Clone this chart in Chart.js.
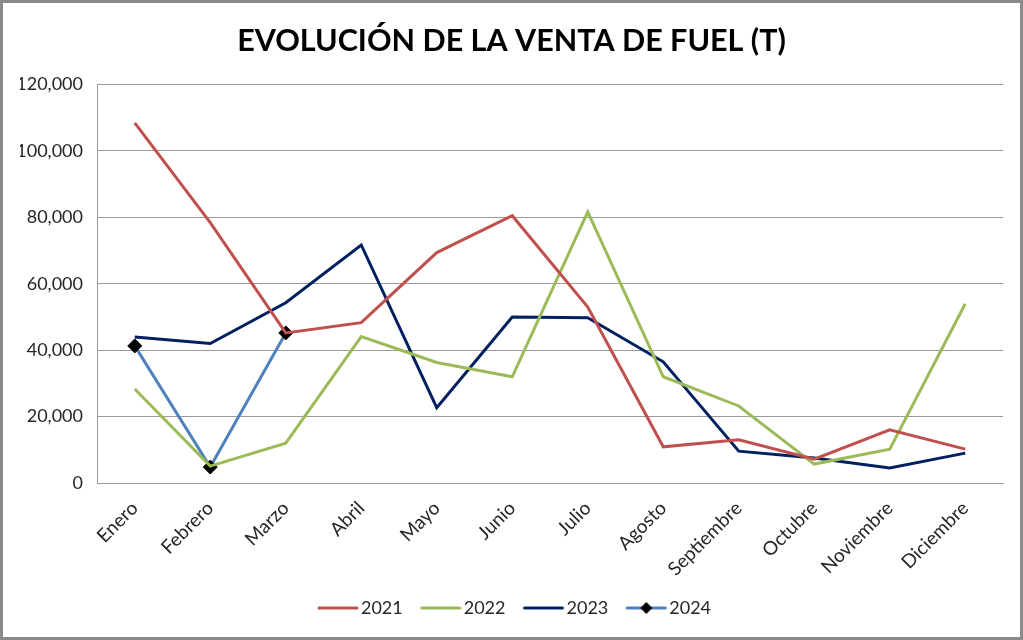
<!DOCTYPE html>
<html>
<head>
<meta charset="utf-8">
<script src="https://cdn.jsdelivr.net/npm/chart.js@4"></script>
<style>
  html, body { margin: 0; padding: 0; background: #fff; }
  #wrap { width: 1023px; height: 640px; position: relative; }
</style>
</head>
<body>
<div id="wrap"><canvas id="fuelChart" width="1023" height="640"></canvas></div>
<script>
const months = ['Enero', 'Febrero', 'Marzo', 'Abril', 'Mayo', 'Junio', 'Julio', 'Agosto', 'Septiembre', 'Octubre', 'Noviembre', 'Diciembre'];
const ventas2021 = [108500, 78400, 45200, 48300, 69400, 80500, 53000, 10900, 13000, 7200, 16000, 10200];
const ventas2022 = [28300, 5100, 12000, 44100, 36300, 32000, 81700, 32000, 23200, 5700, 10200, 54000];
const ventas2023 = [44000, 42000, 54300, 71700, 22700, 50000, 49800, 36500, 9600, 7500, 4500, 9000];
const ventas2024 = [41300, 4800, 45200];
const seriesNames = ['2021', '2022', '2023', '2024'];

const fontFamily = 'Lato, "Open Sans", sans-serif';
const textColor = '#262626';
const gridColor = '#9a9a9a';

// legend pictures: a 40px line shifted right so the text sits close to it, diamond for 2024
function legendIcon(color, withDiamond) {
    const c = document.createElement('canvas');
    c.width = 56;
    c.height = 16;
    const g = c.getContext('2d');
    g.strokeStyle = color;
    g.lineWidth = 3;
    g.lineCap = 'round';
    g.beginPath();
    g.moveTo(15, 8);
    g.lineTo(53, 8);
    g.stroke();
    if (withDiamond) {
        g.fillStyle = '#000';
        g.beginPath();
        g.moveTo(34, 2);
        g.lineTo(40, 8);
        g.lineTo(34, 14);
        g.lineTo(28, 8);
        g.closePath();
        g.fill();
    }
    return c;
}

const frame = {
    id: 'frame',
    afterDraw(chart) {
        const ctx = chart.ctx;
        ctx.save();
        ctx.strokeStyle = '#8a8a8a';
        ctx.lineWidth = 3;
        ctx.strokeRect(1.5, 1.5, chart.width - 3, chart.height - 3);
        ctx.restore();
    }
};

const ctx = document.getElementById('fuelChart').getContext('2d');
const chart = new Chart(ctx, {
    type: 'line',
    data: {
        labels: months,
        datasets: [
            {
                label: seriesNames[0],
                data: ventas2021,
                borderColor: '#C0504D',
                borderWidth: 3,
                pointRadius: 0
            },
            {
                label: seriesNames[1],
                data: ventas2022,
                borderColor: '#9BBB59',
                borderWidth: 3,
                pointRadius: 0
            },
            {
                label: seriesNames[2],
                data: ventas2023,
                borderColor: '#002060',
                borderWidth: 3,
                pointRadius: 0
            },
            {
                label: seriesNames[3],
                data: ventas2024,
                borderColor: '#4F81BD',
                borderWidth: 3,
                pointRadius: 7,
                pointBackgroundColor: '#000',
                pointBorderColor: '#000',
                pointBorderWidth: 1,
                pointStyle: 'rectRot'
            }
        ]
    },
    options: {
        responsive: false,
        animation: false,
        layout: { padding: { left: 20, right: 20, top: 0, bottom: 13 } },
        plugins: {
            title: {
                display: true,
                text: 'EVOLUCIÓN DE LA VENTA DE FUEL (T)',
                color: '#000',
                font: { family: fontFamily, size: 30.5, weight: 'bold' },
                padding: { top: 23, bottom: 25 }
            },
            legend: {
                position: 'bottom',
                labels: {
                    usePointStyle: true,
                    pointStyleWidth: 40,
                    color: textColor,
                    font: { family: fontFamily, size: 18 },
                    padding: 12,
                    generateLabels(chart) {
                        return chart.data.datasets.map((ds, i) => ({
                            text: ds.label,
                            pointStyle: legendIcon(ds.borderColor, i === 3),
                            fillStyle: ds.borderColor,
                            strokeStyle: ds.borderColor,
                            lineWidth: 0,
                            fontColor: textColor,
                            hidden: false,
                            datasetIndex: i
                        }));
                    }
                }
            },
            tooltip: { enabled: false }
        },
        scales: {
            x: {
                offset: true,
                grid: { display: false, drawTicks: false },
                border: { color: gridColor, width: 1 },
                ticks: {
                    color: textColor,
                    font: { family: fontFamily, size: 19 },
                    minRotation: 45,
                    maxRotation: 45,
                    padding: 14
                },
                afterFit(scale) { scale.height = 104; }
            },
            y: {
                min: 0,
                max: 120000,
                grid: { color: gridColor, drawTicks: false },
                border: { color: gridColor, width: 1 },
                ticks: {
                    stepSize: 20000,
                    color: textColor,
                    font: { family: fontFamily, size: 18 },
                    padding: 14,
                    callback: (v) => v.toLocaleString('en-US')
                },
                afterFit(scale) { scale.width = 77; }
            }
        }
    },
    plugins: [frame]
});
</script>
</body>
</html>
